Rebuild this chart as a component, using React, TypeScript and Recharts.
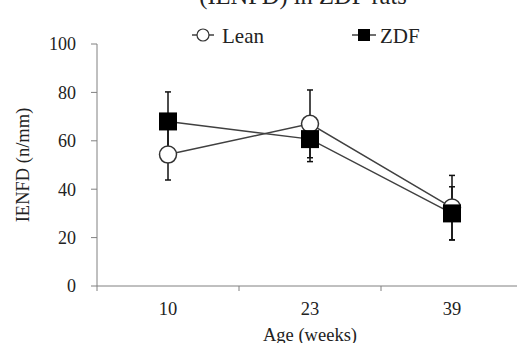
import { LineChart, Line, XAxis, YAxis, ErrorBar, Legend } from 'recharts'

const ages = ['10', '23', '39']
const leanValues = [54.3, 67, 32.4]
const leanErrors = [10.5, 14, 13.3]
const zdfValues = [68, 60.7, 30]
const zdfErrors = [12.2, 9.3, 11]
const yTicks = [0, 20, 40, 60, 80, 100]

const data = ages.map((age, i) => ({
  age,
  lean: leanValues[i],
  leanErr: leanErrors[i],
  zdf: zdfValues[i],
  zdfErr: zdfErrors[i],
}))

const FONT = 'Liberation Serif, serif'
const AXIS = '#808080'
const LINE = '#404040'
// half of one category band (plot is 426px wide, 3 categories)
const HALF_BAND = 71

function AgeTick(props: any) {
  const { x, y, payload } = props
  return (
    <g>
      <line x1={x - HALF_BAND} y1={y} x2={x - HALF_BAND} y2={y + 5} stroke={AXIS} />
      <text x={x} y={y + 29} textAnchor="middle" fontSize={18.5} fontFamily={FONT} fill="#222">
        {payload.value}
      </text>
    </g>
  )
}

function SquareDot(props: any) {
  const { cx, cy } = props
  if (cx == null || cy == null) return null
  return <rect x={cx - 9} y={cy - 9} width={18} height={18} fill="#000" />
}

function LegendContent() {
  return (
    <svg width={260} height={28} style={{ display: 'block' }}>
      <g>
        <line x1={7} y1={13} x2={29} y2={13} stroke={LINE} strokeWidth={1.5} />
        <circle cx={18} cy={13} r={6} fill="#fff" stroke="#333" strokeWidth={1.2} />
        <text x={37} y={21} fontSize={21} fontFamily={FONT} fill="#222">Lean</text>
      </g>
      <g>
        <line x1={167} y1={13} x2={191} y2={13} stroke={LINE} strokeWidth={1.5} />
        <rect x={173} y={7} width={12} height={12} fill="#000" />
        <text x={195} y={21} fontSize={21} fontFamily={FONT} fill="#222">ZDF</text>
      </g>
    </svg>
  )
}

export default function App() {
  return (
    <div style={{ position: 'absolute', left: 0, top: 0, width: 517, height: 343, overflow: 'hidden', background: '#fff' }}>
      <LineChart width={530} height={343} data={data} margin={{ top: 16, right: 7, bottom: 0, left: 0 }}>
        <text x={303} y={4} textAnchor="middle" fontSize={24.5} fontFamily={FONT} fill="#222">
          (IENFD) in ZDF rats
        </text>
        <XAxis
          dataKey="age"
          height={57}
          stroke={AXIS}
          padding={{ left: HALF_BAND, right: HALF_BAND }}
          tickLine={false}
          tickSize={0}
          tickMargin={0}
          tick={<AgeTick />}
          interval={0}
          label={{ value: 'Age (weeks)', position: 'insideBottom', offset: 2, fontSize: 18.5, fontFamily: FONT, fill: '#222' }}
        />
        <YAxis
          domain={[0, 100]}
          ticks={yTicks}
          width={97}
          stroke={AXIS}
          tickSize={6}
          tickMargin={15}
          tick={{ fill: '#222', fontSize: 18, fontFamily: FONT }}
          label={{
            value: 'IENFD (n/mm)',
            angle: -90,
            position: 'insideLeft',
            offset: 22,
            fontSize: 18.5,
            fontFamily: FONT,
            fill: '#222',
            style: { textAnchor: 'middle' },
          }}
        />
        <Legend
          verticalAlign="top"
          content={<LegendContent />}
          wrapperStyle={{ position: 'absolute', top: 22, left: 185, width: 260, height: 28 }}
        />
        <Line
          type="linear"
          dataKey="lean"
          name="Lean"
          stroke={LINE}
          strokeWidth={1.5}
          dot={{ r: 8.5, fill: '#fff', stroke: '#333', strokeWidth: 1.5 }}
          activeDot={false}
          isAnimationActive={false}
        >
          <ErrorBar dataKey="leanErr" direction="y" width={3} stroke="#111" strokeWidth={1.5} isAnimationActive={false} />
        </Line>
        <Line
          type="linear"
          dataKey="zdf"
          name="ZDF"
          stroke={LINE}
          strokeWidth={1.5}
          dot={<SquareDot />}
          activeDot={false}
          isAnimationActive={false}
        >
          <ErrorBar dataKey="zdfErr" direction="y" width={3} stroke="#111" strokeWidth={1.5} isAnimationActive={false} />
        </Line>
      </LineChart>
    </div>
  )
}
